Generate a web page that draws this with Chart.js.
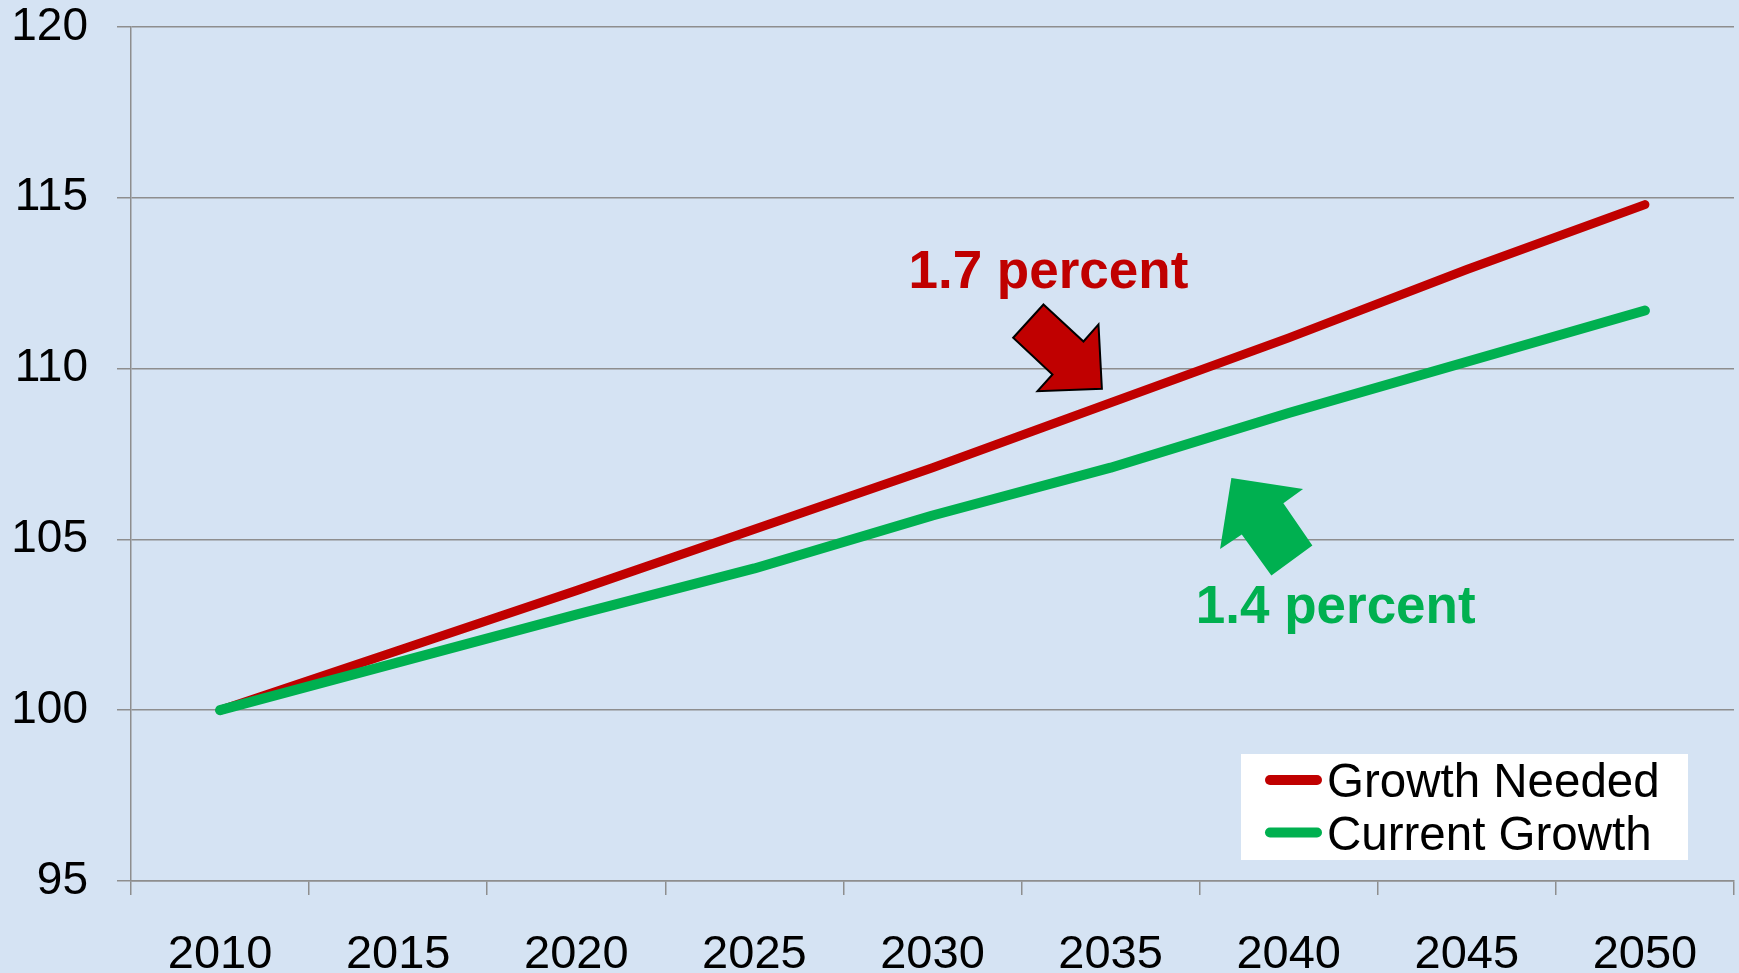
<!DOCTYPE html>
<html>
<head>
<meta charset="utf-8">
<script src="https://cdn.jsdelivr.net/npm/chart.js@4.4.1/dist/chart.umd.min.js"></script>
<style>
  html, body { margin: 0; padding: 0; background: #D5E3F3; }
  #wrap { width: 1739px; height: 973px; }
</style>
</head>
<body>
<div id="wrap"><canvas id="growthChart"></canvas></div>
<script>
const years = ["2010", "2015", "2020", "2025", "2030", "2035", "2040", "2045", "2050"];
const growthNeeded = [100, 101.75, 103.5, 105.3, 107.1, 109.0, 110.9, 112.9, 114.8];
const currentGrowth = [100, 101.4, 102.8, 104.15, 105.7, 107.1, 108.7, 110.2, 111.7];
const seriesNames = ["Growth Needed", "Current Growth"];
const seriesColors = ["#C00000", "#00B050"];
const yTicks = [95, 100, 105, 110, 115, 120];
const callouts = ["1.7 percent", "1.4 percent"];

const gridColor = "#8E8E8E";
const fontFamily = "'Liberation Sans', Arial, sans-serif";

// callout text + block arrows, anchored at a spot on the value axes
const calloutSpots = [
  { text: [3.865, 112.37], tip: [4.951, 109.41], outline: true,
    pts: [[-58.4, -84.3], [-18.4, -47.3], [-3.4, -64.3], [0, 0], [-64.4, 2.4], [-49.4, -14.3], [-88.7, -51]] },
  { text: [5.478, 102.54], tip: [5.678, 106.8], outline: false,
    pts: [[0, 0], [71.7, 11], [52, 25.4], [81, 67.7], [40, 97.7], [10.4, 56.7], [-11.3, 71]] }
];

const overlays = {
  id: "overlays",
  afterDatasetsDraw(chart) {
    const { ctx, chartArea, scales } = chart;
    ctx.save();
    calloutSpots.forEach((c, i) => {
      const tx = scales.x.getPixelForValue(c.tip[0]);
      const ty = scales.y.getPixelForValue(c.tip[1]);
      ctx.beginPath();
      c.pts.forEach((p, j) => {
        if (j === 0) ctx.moveTo(tx + p[0], ty + p[1]);
        else ctx.lineTo(tx + p[0], ty + p[1]);
      });
      ctx.closePath();
      ctx.fillStyle = seriesColors[i];
      ctx.fill();
      if (c.outline) {
        ctx.lineWidth = 2;
        ctx.strokeStyle = "#000";
        ctx.lineJoin = "miter";
        ctx.stroke();
      }
      ctx.font = "bold 53px " + fontFamily;
      ctx.fillStyle = seriesColors[i];
      ctx.textAlign = "left";
      ctx.textBaseline = "alphabetic";
      ctx.fillText(callouts[i],
        scales.x.getPixelForValue(c.text[0]),
        scales.y.getPixelForValue(c.text[1]));
    });

    // legend box in the lower right of the plot
    const bw = 447, bh = 106;
    const bx = chartArea.right - 46 - bw;
    const by = chartArea.bottom - 21 - bh;
    ctx.fillStyle = "#FFFFFF";
    ctx.fillRect(bx, by, bw, bh);
    seriesNames.forEach((name, i) => {
      const ry = by + 26 + i * 52.5;
      ctx.beginPath();
      ctx.moveTo(bx + 29, ry);
      ctx.lineTo(bx + 76, ry);
      ctx.lineWidth = 10;
      ctx.lineCap = "round";
      ctx.strokeStyle = seriesColors[i];
      ctx.stroke();
      ctx.font = "47.5px " + fontFamily;
      ctx.fillStyle = "#000";
      ctx.textAlign = "left";
      ctx.textBaseline = "alphabetic";
      ctx.fillText(name, bx + 86, ry + 17);
    });
    ctx.restore();
  }
};

// keep the plot box fixed: no automatic room for the tick labels
function noPad(s) {
  s.paddingTop = 0;
  s.paddingBottom = 0;
  s.paddingLeft = 0;
  s.paddingRight = 0;
}

Chart.defaults.font.family = fontFamily;
Chart.defaults.color = "#000";

const ctx = document.getElementById("growthChart").getContext("2d");

new Chart(ctx, {
  type: "line",
  data: {
    labels: years,
    datasets: [
      {
        label: seriesNames[0],
        data: growthNeeded,
        borderColor: seriesColors[0],
        borderWidth: 9,
        order: 1
      },
      {
        label: seriesNames[1],
        data: currentGrowth,
        borderColor: seriesColors[1],
        borderWidth: 10,
        order: 0
      }
    ]
  },
  options: {
    responsive: true,
    maintainAspectRatio: false,
    animation: false,
    layout: { padding: { top: 27, right: 5, bottom: 0, left: 0 } },
    elements: {
      point: { radius: 0, hoverRadius: 0 },
      line: { tension: 0, borderCapStyle: "round", borderJoinStyle: "round", fill: false }
    },
    plugins: {
      legend: { display: false },
      tooltip: { enabled: false }
    },
    scales: {
      x: {
        offset: true,
        grid: { offset: true, drawOnChartArea: false, drawTicks: true, tickLength: 14, color: gridColor, lineWidth: 1.5 },
        border: { display: true, color: gridColor, width: 1.5 },
        ticks: { font: { size: 47 }, color: "#000", padding: 32, maxRotation: 0, autoSkip: false },
        afterFit: s => { s.height = 92; noPad(s); }
      },
      y: {
        min: 95,
        max: 120,
        afterBuildTicks: s => { s.ticks = yTicks.map(v => ({ value: v })); },
        grid: { color: gridColor, lineWidth: 1.5, tickLength: 14 },
        border: { display: true, color: gridColor, width: 1.5 },
        ticks: { font: { size: 46 }, color: "#000", padding: 29 },
        afterFit: s => { s.width = 131; noPad(s); }
      }
    }
  },
  plugins: [overlays]
});
</script>
</body>
</html>
